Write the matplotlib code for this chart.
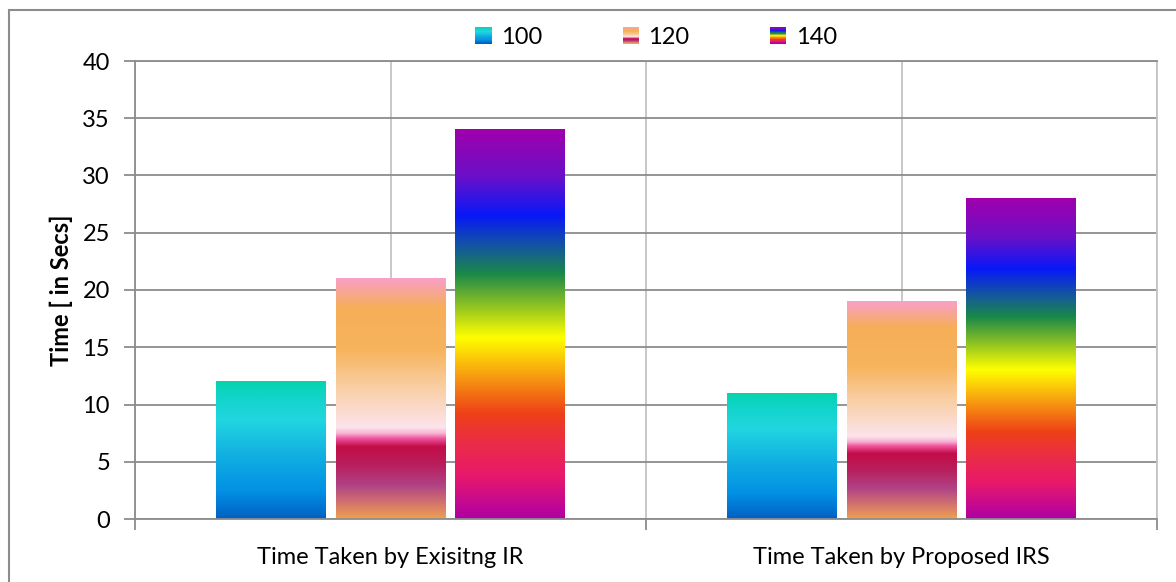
import numpy as np
import matplotlib
matplotlib.use("Agg")
import matplotlib.pyplot as plt
from matplotlib.colors import to_rgb
from matplotlib.patches import Rectangle
from matplotlib.legend_handler import HandlerBase
from matplotlib.ticker import FixedLocator, NullFormatter

# ---- data ----
categories = ["Time Taken by Exisitng IR", "Time Taken by Proposed IRS"]
series_labels = ["100", "120", "140"]
values_100 = [12, 11]
values_120 = [21, 19]
values_140 = [34, 28]
y_ticks = [0, 5, 10, 15, 20, 25, 30, 35, 40]

# gradient fills, listed from the top of a bar (0.0) to its base (1.0)
fill_100 = [(0.00, "#04D4AC"), (0.10, "#10D4C8"), (0.28, "#22D6E0"),
            (0.55, "#10AEE2"), (0.80, "#0290E4"), (1.00, "#0060C2")]
fill_120 = [(0.00, "#F9A0C8"), (0.12, "#F6AE58"), (0.30, "#F7B45C"),
            (0.45, "#F9CEA2"), (0.62, "#FCE4EC"), (0.645, "#F8B4D2"),
            (0.665, "#F058A2"), (0.70, "#C20C48"), (0.78, "#B8205E"),
            (0.86, "#B04286"), (0.93, "#D07070"), (1.00, "#F0A050")]
fill_140 = [(0.00, "#A000AC"), (0.12, "#6A10C8"), (0.22, "#0818F8"),
            (0.30, "#1456A0"), (0.37, "#1A8848"), (0.46, "#98C820"),
            (0.535, "#FFFF00"), (0.63, "#F8A010"), (0.73, "#EE4018"),
            (0.81, "#EA2C48"), (0.89, "#E8186C"), (1.00, "#B000A4")]
fills = [fill_100, fill_120, fill_140]
series_values = [values_100, values_120, values_140]


def gradient_rgb(stops, n=256):
    pos = np.array([s[0] for s in stops])
    cols = np.array([to_rgb(s[1]) for s in stops])
    t = np.linspace(0, 1, n)
    out = np.stack([np.interp(t, pos, cols[:, k]) for k in range(3)], axis=1)
    return out


class GradientSwatch(HandlerBase):
    def __init__(self, stops, nstrips=30):
        super().__init__()
        self.stops = stops
        self.nstrips = nstrips

    def create_artists(self, legend, orig_handle, xdescent, ydescent,
                       width, height, fontsize, trans):
        side = min(width, height)
        x0 = -xdescent + (width - side) / 2
        y0 = -ydescent + (height - side) / 2
        cols = gradient_rgb(self.stops, self.nstrips)
        h = side / self.nstrips
        artists = []
        for i, c in enumerate(cols):
            r = Rectangle((x0, y0 + side - (i + 1) * h), side, h * 1.05,
                          facecolor=c, edgecolor="none", transform=trans)
            artists.append(r)
        return artists


plt.rcParams["font.family"] = ["Lato", "DejaVu Sans"]
FS = 17

fig = plt.figure(figsize=(11.76, 5.82), dpi=100)
ax = fig.add_axes([135 / 1176, 1 - 519 / 582, 1022 / 1176, 458 / 582])

x = np.arange(len(categories))
bar_w = 0.215
step = 0.2335
handles = []
for i, (vals, stops, lab) in enumerate(zip(series_values, fills, series_labels)):
    bars = ax.bar(x + (i - 1) * step, vals, width=bar_w, color="none",
                  edgecolor="none", zorder=2, label=lab)
    img = gradient_rgb(stops)[:, None, :]
    for rect in bars:
        x0, y0 = rect.get_x(), rect.get_y()
        ax.imshow(img, extent=[x0, x0 + rect.get_width(), y0, y0 + rect.get_height()],
                  aspect="auto", origin="upper", zorder=2, interpolation="bilinear")
    handles.append(bars[0])

ax.set_xlim(-0.5, len(categories) - 0.5)
ax.set_ylim(0, 40)
ax.set_yticks(y_ticks)
ax.tick_params(axis="y", labelsize=FS, length=8, width=1.3, color="#8C8C8C",
               pad=10, labelcolor="#000000")

# category labels at centres, tick marks at category boundaries
ax.set_xticks(x)
ax.set_xticklabels(categories)
ax.xaxis.set_minor_locator(FixedLocator([-0.5, 0.5, 1.5]))
ax.xaxis.set_minor_formatter(NullFormatter())
ax.tick_params(axis="x", which="major", length=0, labelsize=FS, pad=20)
ax.tick_params(axis="x", which="minor", length=8, width=1.3, color="#8C8C8C")

ax.set_axisbelow(True)
ax.yaxis.grid(True, color="#8C8C8C", linewidth=1.3)
ax.xaxis.grid(True, which="both", color="#C4C4C4", linewidth=1.3)
ax.xaxis.set_zorder(0.4)

for side in ("left", "bottom", "top"):
    ax.spines[side].set_color("#8C8C8C")
    ax.spines[side].set_linewidth(1.3)
ax.spines["right"].set_color("#C4C4C4")
ax.spines["right"].set_linewidth(1.3)

ax.set_ylabel("Time [ in Secs]", fontsize=FS, fontweight="bold", labelpad=7)

leg = fig.legend(handles=handles, labels=series_labels, loc="center",
                 bbox_to_anchor=(656 / 1176, 1 - 37 / 582), ncol=3, frameon=False,
                 fontsize=FS, handlelength=0.7, handleheight=0.7,
                 handletextpad=0.4, columnspacing=3.4,
                 handler_map={h: GradientSwatch(s) for h, s in zip(handles, fills)})

# chart-area border
fig.patches.append(Rectangle((9 / 1176, -0.05), 1.2, 1 - 9.5 / 582 + 0.05,
                             transform=fig.transFigure, fill=False,
                             edgecolor="#8C8C8C", linewidth=1.5))

fig.savefig("out.png", dpi=100)
